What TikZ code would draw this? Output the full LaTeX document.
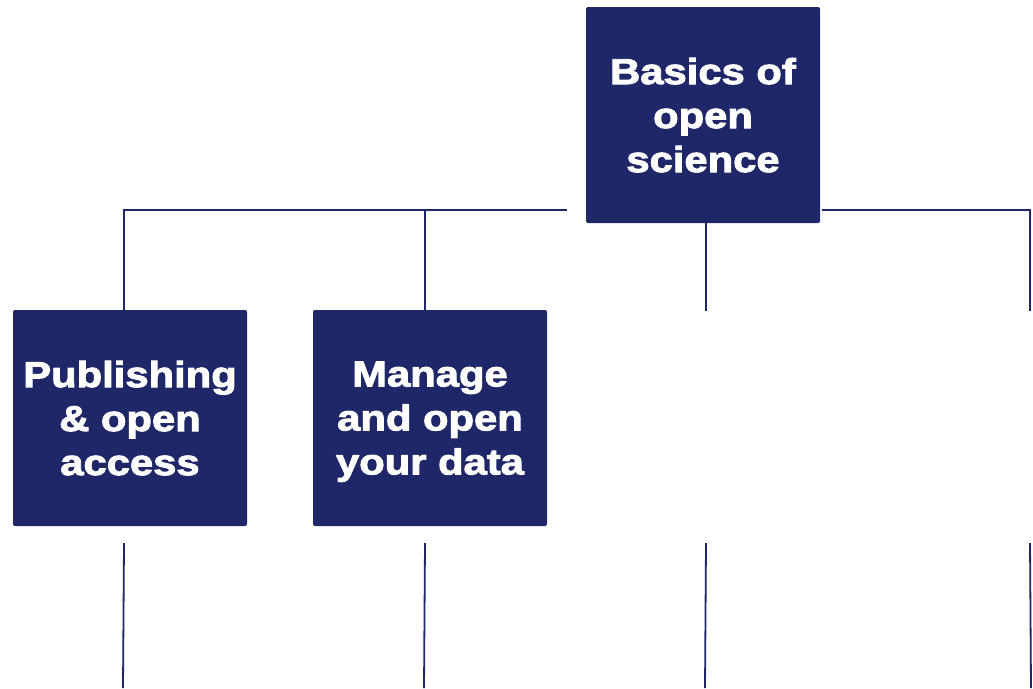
\documentclass[tikz,border=0pt]{standalone}
\usepackage{fontspec}
\setmainfont{Liberation Sans}[FakeStretch=1.16,FakeBold=2.6]
\definecolor{navy}{HTML}{1F2768}
\begin{document}
\begin{tikzpicture}[x=1pt,y=-1pt,
  topicbox/.style={fill=navy,draw=none,rounded corners=2pt,minimum width=234pt,minimum height=216pt,
    text=white,align=center,font=\fontsize{36}{44}\selectfont\bfseries,inner sep=0pt,text depth=0pt},
  link/.style={draw=navy,line width=1.8pt}]
\useasboundingbox (0,0) rectangle (1033,688);
\node[topicbox] (basics) at (703,115) {Basics of\\open\\science};
\node[topicbox] (pub) at (130,418) {Publishing\\\& open\\access};
\node[topicbox] (data) at (430,418) {Manage\\and open\\your data};
% upper connector coordinates
\coordinate (hl) at (124,210);
\coordinate (hm) at (425,210);
\coordinate (hg) at (567,210);
\coordinate (hr0) at (822,210);
\coordinate (hr) at (1030,210);
\coordinate (pubtop) at (124,310);
\coordinate (datatop) at (425,310);
\coordinate (c3top) at (706,311);
\coordinate (c4top) at (1030,311);
\coordinate (basicsbot) at (706,223);
% lower connector coordinates
\coordinate (l1a) at (124,543);
\coordinate (l1b) at (123,688);
\coordinate (l2a) at (425,543);
\coordinate (l2b) at (424,688);
\coordinate (l3a) at (706,543);
\coordinate (l3b) at (705,688);
\coordinate (l4a) at (1030,543);
\coordinate (l4b) at (1031,688);
\draw[link] (pubtop) -- (hl) -- (hg);
\draw[link] (hm) -- (datatop);
\draw[link] (hr0) -- (hr) -- (c4top);
\draw[link] (basicsbot) -- (c3top);
\draw[link] (l1a) -- (l1b);
\draw[link] (l2a) -- (l2b);
\draw[link] (l3a) -- (l3b);
\draw[link] (l4a) -- (l4b);
\end{tikzpicture}
\end{document}
